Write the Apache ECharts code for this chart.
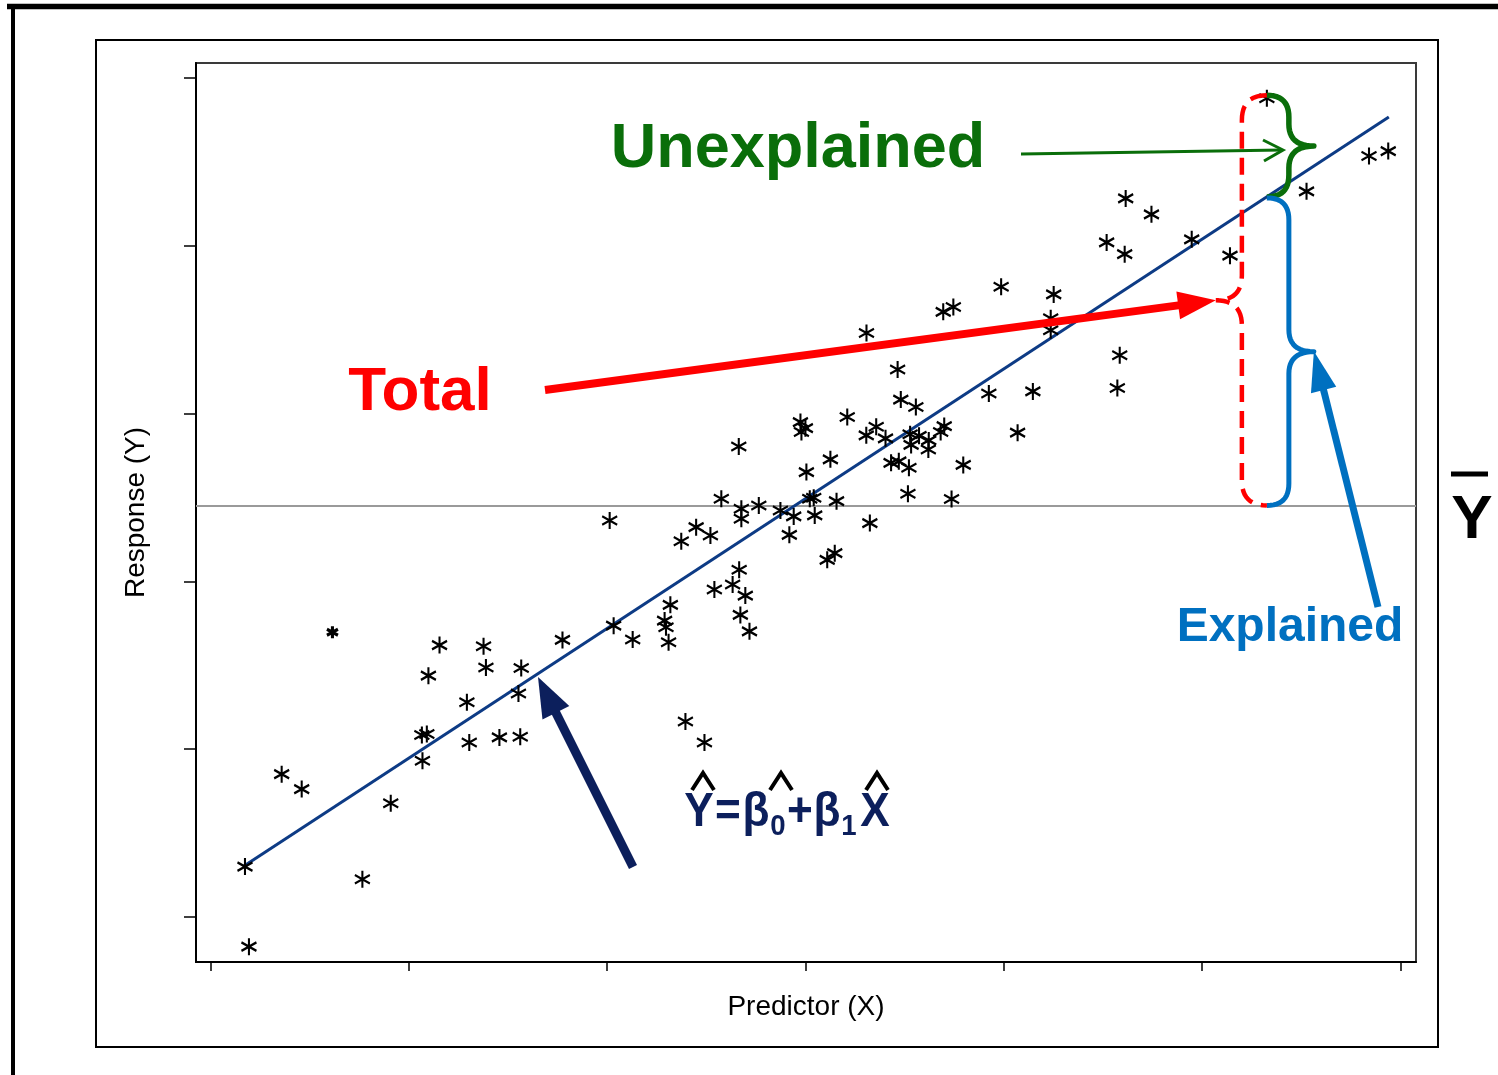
<!DOCTYPE html>
<html>
<head>
<meta charset="utf-8">
<title>Regression: explained and unexplained variation</title>
<script src="https://cdn.jsdelivr.net/npm/echarts@6/dist/echarts.min.js"></script>
<style>
  html, body { margin: 0; padding: 0; background: #ffffff; }
  #chart { width: 1498px; height: 1075px; }
</style>
</head>
<body>
<div id="chart"></div>
<script>
// ---- data -------------------------------------------------------------
const xTicks = [0, 10, 20, 30, 40, 50, 60];
const yTicks = [0, 10, 20, 30, 40, 50];

const predictorX = [
  1.74, 1.94, 3.59, 4.60, 7.66, 9.09, 10.66, 10.91, 10.69, 10.99,
  11.55, 12.93, 13.05, 13.77, 13.89, 14.57, 15.53, 15.67, 15.62, 17.75,
  20.13, 20.33, 21.29, 22.90, 22.97, 23.10, 23.19, 23.95, 24.91, 23.74,
  24.49, 25.21, 25.41, 26.33, 26.66, 26.97, 26.72, 27.18, 25.76, 26.64,
  26.77, 26.77, 27.65, 28.74, 29.19, 29.41, 29.75, 30.00, 29.80, 30.05,
  30.22, 30.42, 30.47, 31.10, 31.48, 31.26, 31.57, 32.11, 33.08, 33.25,
  33.07, 33.57, 34.04, 34.32, 34.71, 34.65, 34.81, 35.57, 35.22, 35.17,
  35.28, 35.73, 35.33, 36.22, 36.20, 36.82, 37.00, 37.96, 37.37, 36.95,
  37.46, 39.25, 39.87, 40.70, 41.47, 42.52, 42.37, 42.37, 45.85, 45.73,
  46.15, 47.45, 45.19, 46.10, 49.48, 51.41, 53.27, 55.27, 58.42, 59.39
];
const responseY = [
  3.00, -1.77, 8.51, 7.62, 2.25, 6.78, 10.84, 10.90, 9.31, 14.38,
  16.20, 12.79, 10.40, 16.13, 14.87, 10.70, 13.32, 14.84, 10.74, 16.51,
  23.63, 17.36, 16.53, 17.66, 17.26, 16.37, 18.60, 11.65, 10.40, 22.39,
  23.23, 22.73, 19.51, 19.81, 20.69, 19.15, 18.00, 17.02, 24.92, 28.04,
  24.33, 23.73, 24.52, 24.22, 22.77, 23.87, 29.49, 29.13, 28.90, 26.51,
  24.92, 24.98, 23.93, 21.28, 21.68, 27.27, 24.78, 29.79, 34.80, 23.47,
  28.70, 29.21, 28.52, 27.06, 27.15, 32.62, 30.83, 30.39, 26.77, 25.22,
  28.77, 28.67, 28.13, 28.40, 27.86, 28.90, 29.25, 26.94, 24.91, 36.06,
  36.35, 31.19, 37.56, 28.86, 31.32, 37.10, 35.68, 34.96, 33.47, 31.52,
  42.82, 41.87, 40.20, 39.50, 40.38, 39.41, 48.79, 43.24, 45.35, 45.64
];

// one observation plotted with a heavier marker
const flaggedX = [6.15];
const flaggedY = [16.96];

// fitted regression line end points and the mean response
const fitX = [1.69, 59.42];
const fitY = [3.04, 47.67];
const meanY = 24.52;

// observation used to split the deviation into its two parts
const focusX = 53.27;
const focusY = 48.79;
const focusFitY = 42.91;

// ---- chart ------------------------------------------------------------
const FONT = '"Liberation Sans", Arial, Helvetica, sans-serif';
const STAR = 'path://M0,-7.5L0,7.5M-6.5,-3.75L6.5,3.75M-6.5,3.75L6.5,-3.75';

const chart = echarts.init(document.getElementById('chart'), null, { renderer: 'canvas' });

const option = {
  animation: false,
  backgroundColor: '#ffffff',
  grid: {
    left: 196, top: 63, right: 82, bottom: 113,
    show: true, borderColor: '#3a3a3a', borderWidth: 2,
    containLabel: false, outerBoundsMode: 'none'
  },
  xAxis: {
    type: 'value', min: -0.73, max: 60.79,
    axisLine: { show: true, onZero: false, lineStyle: { color: '#000', width: 2 } },
    axisTick: { show: true, length: 9, customValues: xTicks, lineStyle: { color: '#000', width: 1.5 } },
    axisLabel: { show: false },
    splitLine: { show: false },
    name: 'Predictor (X)', nameLocation: 'middle', nameGap: 31,
    nameTextStyle: { fontFamily: FONT, fontSize: 28, color: '#000' }
  },
  yAxis: {
    type: 'value', min: -2.685, max: 50.89,
    axisLine: { show: true, onZero: false, lineStyle: { color: '#000', width: 2 } },
    axisTick: { show: true, length: 12, customValues: yTicks, lineStyle: { color: '#000', width: 1.5 } },
    axisLabel: { show: false },
    splitLine: { show: false },
    name: 'Response (Y)', nameLocation: 'middle', nameGap: 46,
    nameTextStyle: { fontFamily: FONT, fontSize: 28, color: '#000' }
  },
  series: [
    {
      name: 'observed', type: 'scatter', z: 4,
      data: predictorX.map((x, i) => [x, responseY[i]]),
      symbol: STAR, symbolSize: [15, 17],
      itemStyle: { color: 'none', borderColor: '#000', borderWidth: 2.2, opacity: 1 },
      emphasis: { disabled: true },
      markLine: {
        silent: true, symbol: 'none', z: 1,
        label: { show: false },
        lineStyle: { color: '#9a9a9a', width: 2, type: 'solid' },
        data: [{ yAxis: meanY }]
      }
    },
    {
      name: 'flagged', type: 'scatter', z: 4,
      data: flaggedX.map((x, i) => [x, flaggedY[i]]),
      symbol: STAR, symbolSize: [11, 12],
      itemStyle: { color: 'none', borderColor: '#000', borderWidth: 3.2, opacity: 1 },
      emphasis: { disabled: true }
    },
    {
      name: 'fit', type: 'line', z: 3,
      data: fitX.map((x, i) => [x, fitY[i]]),
      symbol: 'none',
      lineStyle: { color: '#0d3b85', width: 3 },
      emphasis: { disabled: true }
    }
  ]
};
chart.setOption(option);

// ---- annotations ------------------------------------------------------
const RED = '#ff0000', GREEN = '#0a6e0a', BLUE = '#0070c0', NAVY = '#0c1f5c';

function arrow(x1, y1, x2, y2, w, hl, hw, color) {
  const dx = x2 - x1, dy = y2 - y1, L = Math.hypot(dx, dy);
  const ux = dx / L, uy = dy / L, nx = -uy, ny = ux;
  const bx = x2 - ux * hl, by = y2 - uy * hl;
  return [
    { type: 'line', z: 100, shape: { x1, y1, x2: bx + ux * 2, y2: by + uy * 2 },
      style: { stroke: color, lineWidth: w } },
    { type: 'polygon', z: 100,
      shape: { points: [[x2, y2], [bx + nx * hw / 2, by + ny * hw / 2], [bx - nx * hw / 2, by - ny * hw / 2]] },
      style: { fill: color } }
  ];
}

// quadratic curve sampled into points
function quad(pts, p0, p1, p2) {
  for (let i = 1; i <= 12; i++) {
    const t = i / 12, s = 1 - t;
    pts.push([s * s * p0[0] + 2 * s * t * p1[0] + t * t * p2[0],
              s * s * p0[1] + 2 * s * t * p1[1] + t * t * p2[1]]);
  }
}

// curly brace between y0 and y1 at x0, bulging toward dir
function brace(x0, y0, y1, dir, a, tip) {
  const ym = (y0 + y1) / 2, xa = x0 + dir * a, xt = x0 + dir * tip;
  const pts = [[x0, y0]];
  quad(pts, [x0, y0], [xa, y0], [xa, y0 + a]);
  pts.push([xa, ym - a]);
  quad(pts, [xa, ym - a], [xa, ym], [xt, ym]);
  quad(pts, [xt, ym], [xa, ym], [xa, ym + a]);
  pts.push([xa, y1 - a]);
  quad(pts, [xa, y1 - a], [xa, y1], [x0, y1]);
  return pts;
}

function label(text, x, y, size, color, extra) {
  return Object.assign({
    type: 'text', x, y, z: 101,
    style: { text, fill: color, font: `bold ${size}px ${FONT}`, align: 'center', verticalAlign: 'middle' }
  }, extra || {});
}

const pTop = chart.convertToPixel({ gridIndex: 0 }, [focusX, focusY]);
const pFit = chart.convertToPixel({ gridIndex: 0 }, [focusX, focusFitY]);
const pMean = chart.convertToPixel({ gridIndex: 0 }, [focusX, meanY]);
const bx = pTop[0];
const topY = pTop[1] - 3;
const redTip = [bx - 51, (topY + pMean[1]) / 2];
const blueTip = [bx + 47, (pFit[1] + pMean[1]) / 2];

const graphics = [
  // page frames
  { type: 'line', z: 90, shape: { x1: 7, y1: 6.5, x2: 1510, y2: 6.5 }, style: { stroke: '#000', lineWidth: 5.5 } },
  { type: 'line', z: 90, shape: { x1: 13, y1: 4, x2: 13, y2: 1080 }, style: { stroke: '#000', lineWidth: 4 } },
  { type: 'rect', z: 90, shape: { x: 96, y: 40, width: 1342, height: 1007 },
    style: { fill: 'none', stroke: '#000', lineWidth: 2 } },

  // braces
  { type: 'polyline', z: 100, shape: { points: brace(bx, topY, pFit[1], 1, 22, 47) },
    style: { fill: 'none', stroke: GREEN, lineWidth: 5.5, lineJoin: 'round' } },
  { type: 'polyline', z: 100, shape: { points: brace(bx, pFit[1] + 1, pMean[1], 1, 22, 47) },
    style: { fill: 'none', stroke: BLUE, lineWidth: 5, lineJoin: 'round' } },
  { type: 'polyline', z: 100, shape: { points: brace(bx, topY, pMean[1], -1, 25, 51) },
    style: { fill: 'none', stroke: RED, lineWidth: 4.5, lineDash: [17, 9] } },

  // arrows
  ...arrow(545, 390, redTip[0], redTip[1], 8, 38, 28, RED),
  ...arrow(1378, 607, blueTip[0], blueTip[1], 7, 40, 26, BLUE),
  ...arrow(633, 867, 538, 677, 9, 40, 30, NAVY),
  { type: 'line', z: 100, shape: { x1: 1021, y1: 154, x2: 1282, y2: 150 }, style: { stroke: GREEN, lineWidth: 3 } },
  { type: 'polyline', z: 100, shape: { points: [[1263, 140], [1283, 150], [1264, 161]] },
    style: { fill: 'none', stroke: GREEN, lineWidth: 3 } },

  // labels
  label('Unexplained', 798, 150, 63, GREEN),
  label('Total', 420, 393, 62, RED),
  label('Explained', 1290, 628, 48, BLUE),

  // mean response symbol
  label('Y', 1472, 521, 62, '#000'),
  { type: 'line', z: 101, shape: { x1: 1451, y1: 474, x2: 1488, y2: 474 }, style: { stroke: '#000', lineWidth: 5 } },

  // fitted equation
  label('Y', 699, 813, 48, NAVY, { scaleX: 0.92 }),
  label('=', 728, 813, 48, NAVY, { scaleX: 0.92 }),
  label('β', 756, 813, 48, NAVY, { scaleX: 0.92 }),
  label('0', 778, 827, 30, NAVY, { scaleX: 0.92 }),
  label('+', 800, 813, 48, NAVY, { scaleX: 0.92 }),
  label('β', 827, 813, 48, NAVY, { scaleX: 0.92 }),
  label('1', 849, 827, 30, NAVY, { scaleX: 0.92 }),
  label('X', 875, 813, 48, NAVY, { scaleX: 0.92 }),
  { type: 'polyline', z: 101, shape: { points: [[692, 790], [703, 773], [714, 790]] },
    style: { fill: 'none', stroke: '#000', lineWidth: 4 } },
  { type: 'polyline', z: 101, shape: { points: [[770, 790], [781, 773], [792, 790]] },
    style: { fill: 'none', stroke: '#000', lineWidth: 4 } },
  { type: 'polyline', z: 101, shape: { points: [[866, 790], [877, 773], [888, 790]] },
    style: { fill: 'none', stroke: '#000', lineWidth: 4 } }
];

chart.setOption({ graphic: { elements: graphics } });
</script>
</body>
</html>
